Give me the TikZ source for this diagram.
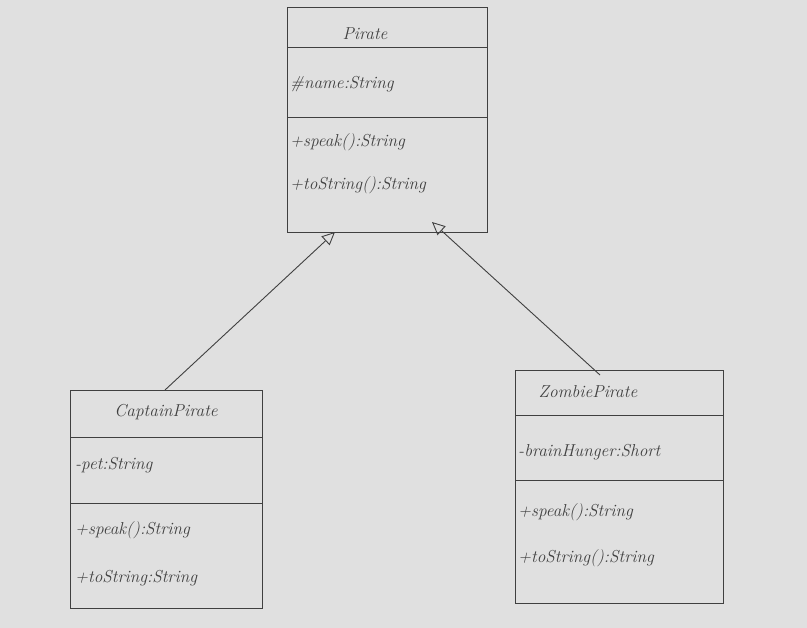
\documentclass[tikz,border=0pt]{standalone}
\usetikzlibrary{arrows.meta}
\begin{document}
\begin{tikzpicture}[x=1pt,y=-1pt,
  ln/.style={draw=black!75,line width=0.9pt},
  txt/.style={anchor=west,font=\itshape\LARGE,text=black!75,inner sep=1pt},
  ttl/.style={font=\itshape\LARGE,text=black!75},
  inh/.style={ln,-{Triangle[open,length=13pt,width=12pt]}}]
\fill[black!12] (0,0) rectangle (807,628);
\useasboundingbox (0,0) rectangle (807,628);
% Pirate
\draw[ln] (287,7) rectangle (487,232);
\draw[ln] (287,47) -- (487,47);
\draw[ln] (287,117) -- (487,117);
\node[ttl] (pt) at (365,34) {Pirate};
\node[txt] (pa) at (289,84) {\#name:String};
\node[txt] (pm1) at (289,142) {+speak():String};
\node[txt] (pm2) at (289,185) {+toString():String};
\coordinate (pl) at (335,232);
\coordinate (pr) at (432,222);
% CaptainPirate
\draw[ln] (70,390) rectangle (262,608);
\draw[ln] (70,437) -- (262,437);
\draw[ln] (70,503) -- (262,503);
\node[ttl] (ct) at (166,412) {CaptainPirate};
\node[txt] (ca) at (74,465) {-pet:String};
\node[txt] (cm1) at (74,530) {+speak():String};
\node[txt] (cm2) at (74,578) {+toString:String};
\coordinate (cp) at (165,390);
% ZombiePirate
\draw[ln] (515,370) rectangle (723,603);
\draw[ln] (515,415) -- (723,415);
\draw[ln] (515,480) -- (723,480);
\node[ttl] (zt) at (588,392) {ZombiePirate};
\node[txt] (za) at (517,452) {-brainHunger:Short};
\node[txt] (zm1) at (517,512) {+speak():String};
\node[txt] (zm2) at (517,558) {+toString():String};
\coordinate (zp) at (600,375);
% inheritance
\draw[inh] (cp) -- (pl);
\draw[inh] (zp) -- (pr);
\end{tikzpicture}
\end{document}
